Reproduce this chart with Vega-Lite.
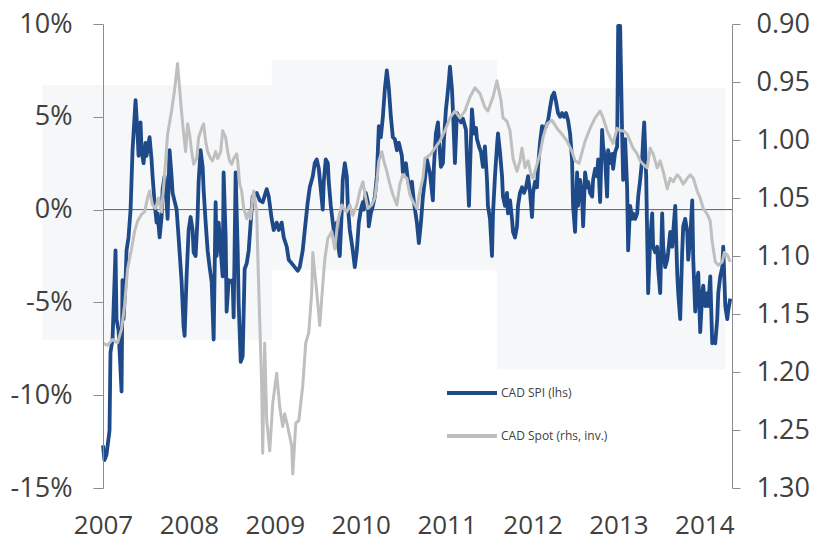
{
  "$schema": "https://vega.github.io/schema/vega-lite/v6.json",
  "width": 629,
  "height": 464,
  "autosize": "none",
  "padding": {"left": 103, "top": 24, "right": 88, "bottom": 54},
  "background": "white",
  "config": {"view": {"stroke": null}, "font": "Open Sans"},
  "datasets": {
    "shade": [
      {"t": 2006.295, "t2": 2008.964, "hi": 6.71, "lo": -7.03},
      {"t": 2008.964, "t2": 2011.586, "hi": 8.06, "lo": -3.25},
      {"t": 2011.586, "t2": 2014.243, "hi": 6.55, "lo": -8.6}
    ],
    "zero": [{"t": 2007, "t2": 2014.322, "v": 0}],
    "spi": [
      {"t":2007.000,"v":-12.7},{"t":2007.017,"v":-13.5},{"t":2007.041,"v":-13.2},{"t":2007.076,"v":-11.9},{"t":2007.087,"v":-7.7},{"t":2007.111,"v":-7.0},{"t":2007.146,"v":-2.2},{"t":2007.157,"v":-5.9},{"t":2007.181,"v":-6.5},{"t":2007.216,"v":-9.8},{"t":2007.227,"v":-3.8},{"t":2007.239,"v":-5.9},{"t":2007.262,"v":-3.9},{"t":2007.274,"v":-2.2},{"t":2007.297,"v":-1.5},{"t":2007.321,"v":0.0},{"t":2007.344,"v":3.2},{"t":2007.379,"v":5.9},{"t":2007.402,"v":4.1},{"t":2007.414,"v":2.9},{"t":2007.437,"v":4.7},{"t":2007.449,"v":3.2},{"t":2007.472,"v":2.5},{"t":2007.495,"v":3.6},{"t":2007.507,"v":2.9},{"t":2007.542,"v":3.9},{"t":2007.565,"v":2.7},{"t":2007.577,"v":1.8},{"t":2007.600,"v":0.4},{"t":2007.624,"v":-0.7},{"t":2007.635,"v":-0.2},{"t":2007.659,"v":-1.5},{"t":2007.682,"v":-0.4},{"t":2007.694,"v":1.1},{"t":2007.717,"v":1.8},{"t":2007.740,"v":0.4},{"t":2007.752,"v":-0.5},{"t":2007.775,"v":3.2},{"t":2007.798,"v":1.8},{"t":2007.810,"v":0.9},{"t":2007.857,"v":0.0},{"t":2007.880,"v":-1.5},{"t":2007.915,"v":-3.9},{"t":2007.938,"v":-6.3},{"t":2007.950,"v":-6.8},{"t":2007.973,"v":-3.6},{"t":2007.997,"v":-1.1},{"t":2008.020,"v":-0.4},{"t":2008.043,"v":-1.1},{"t":2008.055,"v":-2.3},{"t":2008.078,"v":-2.5},{"t":2008.101,"v":-0.4},{"t":2008.113,"v":1.5},{"t":2008.136,"v":3.2},{"t":2008.160,"v":2.3},{"t":2008.171,"v":1.1},{"t":2008.195,"v":-0.7},{"t":2008.218,"v":-2.2},{"t":2008.241,"v":-3.1},{"t":2008.265,"v":-3.9},{"t":2008.288,"v":-7.0},{"t":2008.311,"v":0.4},{"t":2008.323,"v":-2.5},{"t":2008.346,"v":-0.7},{"t":2008.370,"v":-2.2},{"t":2008.393,"v":-3.6},{"t":2008.404,"v":2.0},{"t":2008.428,"v":-1.5},{"t":2008.439,"v":-5.5},{"t":2008.463,"v":-3.8},{"t":2008.486,"v":-3.9},{"t":2008.509,"v":-3.8},{"t":2008.521,"v":-5.8},{"t":2008.544,"v":2.0},{"t":2008.568,"v":-2.2},{"t":2008.579,"v":-5.0},{"t":2008.603,"v":-8.2},{"t":2008.626,"v":-7.9},{"t":2008.649,"v":-3.2},{"t":2008.673,"v":-2.9},{"t":2008.696,"v":-2.2},{"t":2008.719,"v":-0.7},{"t":2008.742,"v":0.7},{"t":2008.789,"v":0.9},{"t":2008.824,"v":0.5},{"t":2008.859,"v":0.4},{"t":2008.906,"v":1.1},{"t":2008.929,"v":0.7},{"t":2008.964,"v":-0.5},{"t":2008.987,"v":-1.1},{"t":2009.022,"v":-0.7},{"t":2009.046,"v":-1.1},{"t":2009.080,"v":-0.7},{"t":2009.104,"v":-1.5},{"t":2009.139,"v":-2.0},{"t":2009.162,"v":-2.7},{"t":2009.197,"v":-2.9},{"t":2009.232,"v":-3.1},{"t":2009.267,"v":-3.3},{"t":2009.290,"v":-3.1},{"t":2009.325,"v":-2.2},{"t":2009.349,"v":-1.1},{"t":2009.383,"v":0.4},{"t":2009.407,"v":1.2},{"t":2009.442,"v":1.8},{"t":2009.465,"v":2.5},{"t":2009.488,"v":2.7},{"t":2009.512,"v":2.2},{"t":2009.535,"v":1.1},{"t":2009.558,"v":0.0},{"t":2009.570,"v":1.5},{"t":2009.593,"v":2.7},{"t":2009.617,"v":2.5},{"t":2009.628,"v":1.5},{"t":2009.652,"v":0.2},{"t":2009.675,"v":-0.7},{"t":2009.698,"v":-1.5},{"t":2009.721,"v":-0.7},{"t":2009.733,"v":-1.8},{"t":2009.756,"v":-2.5},{"t":2009.780,"v":0.0},{"t":2009.791,"v":1.6},{"t":2009.815,"v":2.5},{"t":2009.838,"v":1.8},{"t":2009.850,"v":0.2},{"t":2009.873,"v":-1.1},{"t":2009.908,"v":-2.2},{"t":2009.931,"v":-3.1},{"t":2009.955,"v":-2.2},{"t":2009.978,"v":-0.7},{"t":2010.001,"v":0.0},{"t":2010.025,"v":0.4},{"t":2010.036,"v":0.0},{"t":2010.059,"v":0.9},{"t":2010.083,"v":0.4},{"t":2010.094,"v":-0.9},{"t":2010.118,"v":-0.2},{"t":2010.141,"v":0.2},{"t":2010.164,"v":0.7},{"t":2010.188,"v":1.8},{"t":2010.211,"v":4.5},{"t":2010.234,"v":3.9},{"t":2010.258,"v":5.0},{"t":2010.281,"v":6.5},{"t":2010.304,"v":7.5},{"t":2010.328,"v":6.5},{"t":2010.351,"v":5.0},{"t":2010.374,"v":3.9},{"t":2010.397,"v":3.8},{"t":2010.421,"v":3.2},{"t":2010.444,"v":3.6},{"t":2010.479,"v":2.9},{"t":2010.491,"v":2.0},{"t":2010.526,"v":2.5},{"t":2010.549,"v":1.6},{"t":2010.572,"v":1.1},{"t":2010.596,"v":1.5},{"t":2010.619,"v":0.4},{"t":2010.654,"v":-0.7},{"t":2010.677,"v":-1.8},{"t":2010.701,"v":-0.7},{"t":2010.724,"v":0.7},{"t":2010.747,"v":1.6},{"t":2010.770,"v":2.7},{"t":2010.805,"v":2.0},{"t":2010.840,"v":0.5},{"t":2010.852,"v":2.3},{"t":2010.875,"v":4.1},{"t":2010.899,"v":4.7},{"t":2010.910,"v":3.8},{"t":2010.934,"v":2.3},{"t":2010.957,"v":2.5},{"t":2010.969,"v":3.8},{"t":2010.992,"v":5.4},{"t":2011.004,"v":5.9},{"t":2011.027,"v":7.0},{"t":2011.039,"v":7.7},{"t":2011.062,"v":6.5},{"t":2011.073,"v":5.4},{"t":2011.097,"v":2.5},{"t":2011.120,"v":5.2},{"t":2011.143,"v":5.0},{"t":2011.167,"v":4.7},{"t":2011.190,"v":4.9},{"t":2011.225,"v":4.3},{"t":2011.237,"v":2.7},{"t":2011.260,"v":0.2},{"t":2011.283,"v":3.8},{"t":2011.295,"v":5.4},{"t":2011.318,"v":4.1},{"t":2011.342,"v":4.4},{"t":2011.353,"v":3.8},{"t":2011.377,"v":3.4},{"t":2011.400,"v":3.1},{"t":2011.423,"v":2.3},{"t":2011.446,"v":3.4},{"t":2011.470,"v":1.6},{"t":2011.481,"v":0.2},{"t":2011.505,"v":-0.5},{"t":2011.528,"v":-2.5},{"t":2011.540,"v":-0.2},{"t":2011.563,"v":1.8},{"t":2011.586,"v":3.4},{"t":2011.598,"v":4.1},{"t":2011.621,"v":3.1},{"t":2011.645,"v":1.8},{"t":2011.656,"v":0.7},{"t":2011.680,"v":0.2},{"t":2011.703,"v":0.9},{"t":2011.714,"v":-0.2},{"t":2011.738,"v":0.5},{"t":2011.761,"v":-0.5},{"t":2011.773,"v":-1.2},{"t":2011.796,"v":-1.5},{"t":2011.819,"v":-0.9},{"t":2011.831,"v":0.2},{"t":2011.854,"v":0.9},{"t":2011.878,"v":1.2},{"t":2011.901,"v":0.9},{"t":2011.924,"v":1.2},{"t":2011.948,"v":1.8},{"t":2011.971,"v":0.9},{"t":2011.994,"v":-0.4},{"t":2012.006,"v":0.9},{"t":2012.029,"v":1.5},{"t":2012.052,"v":1.2},{"t":2012.064,"v":2.3},{"t":2012.087,"v":3.6},{"t":2012.111,"v":4.5},{"t":2012.134,"v":4.3},{"t":2012.157,"v":4.5},{"t":2012.181,"v":4.8},{"t":2012.204,"v":5.5},{"t":2012.227,"v":6.1},{"t":2012.251,"v":6.3},{"t":2012.274,"v":5.8},{"t":2012.297,"v":5.2},{"t":2012.321,"v":5.0},{"t":2012.344,"v":5.2},{"t":2012.367,"v":5.0},{"t":2012.390,"v":5.2},{"t":2012.414,"v":4.8},{"t":2012.437,"v":4.1},{"t":2012.460,"v":2.7},{"t":2012.472,"v":0.2},{"t":2012.495,"v":-1.2},{"t":2012.519,"v":2.0},{"t":2012.530,"v":0.2},{"t":2012.554,"v":1.6},{"t":2012.577,"v":0.7},{"t":2012.589,"v":-0.9},{"t":2012.612,"v":2.0},{"t":2012.635,"v":1.2},{"t":2012.647,"v":1.5},{"t":2012.670,"v":0.9},{"t":2012.694,"v":0.7},{"t":2012.705,"v":1.6},{"t":2012.729,"v":2.2},{"t":2012.752,"v":1.8},{"t":2012.764,"v":2.7},{"t":2012.787,"v":0.4},{"t":2012.810,"v":4.3},{"t":2012.822,"v":3.4},{"t":2012.845,"v":2.7},{"t":2012.868,"v":0.7},{"t":2012.880,"v":3.2},{"t":2012.903,"v":2.5},{"t":2012.927,"v":3.0},{"t":2012.938,"v":2.2},{"t":2012.962,"v":3.1},{"t":2012.985,"v":3.4},{"t":2012.997,"v":9.9},{"t":2013.020,"v":9.9},{"t":2013.043,"v":4.1},{"t":2013.055,"v":1.6},{"t":2013.078,"v":3.8},{"t":2013.101,"v":1.2},{"t":2013.113,"v":-2.2},{"t":2013.136,"v":0.2},{"t":2013.160,"v":-0.5},{"t":2013.171,"v":-0.2},{"t":2013.195,"v":-0.5},{"t":2013.218,"v":-0.2},{"t":2013.230,"v":0.7},{"t":2013.253,"v":1.6},{"t":2013.276,"v":2.7},{"t":2013.288,"v":3.8},{"t":2013.300,"v":4.7},{"t":2013.323,"v":1.8},{"t":2013.335,"v":-1.5},{"t":2013.346,"v":-4.5},{"t":2013.370,"v":-1.6},{"t":2013.393,"v":-0.2},{"t":2013.404,"v":-2.0},{"t":2013.428,"v":-2.3},{"t":2013.451,"v":-2.0},{"t":2013.463,"v":-3.2},{"t":2013.486,"v":-4.5},{"t":2013.509,"v":-0.2},{"t":2013.521,"v":-2.0},{"t":2013.544,"v":-3.1},{"t":2013.568,"v":-2.7},{"t":2013.579,"v":-2.3},{"t":2013.603,"v":-1.2},{"t":2013.626,"v":-2.0},{"t":2013.638,"v":-1.2},{"t":2013.661,"v":0.2},{"t":2013.684,"v":-3.4},{"t":2013.696,"v":-4.5},{"t":2013.719,"v":-5.9},{"t":2013.742,"v":-2.3},{"t":2013.754,"v":-0.9},{"t":2013.777,"v":-0.5},{"t":2013.801,"v":-1.2},{"t":2013.812,"v":-2.7},{"t":2013.836,"v":-1.5},{"t":2013.859,"v":0.5},{"t":2013.871,"v":-2.7},{"t":2013.894,"v":-5.5},{"t":2013.917,"v":-3.8},{"t":2013.929,"v":-3.4},{"t":2013.952,"v":-6.6},{"t":2013.976,"v":-4.5},{"t":2013.987,"v":-4.1},{"t":2014.011,"v":-5.2},{"t":2014.034,"v":-4.5},{"t":2014.046,"v":-5.2},{"t":2014.069,"v":-3.6},{"t":2014.092,"v":-7.2},{"t":2014.104,"v":-7.0},{"t":2014.127,"v":-7.2},{"t":2014.150,"v":-5.9},{"t":2014.162,"v":-4.5},{"t":2014.185,"v":-3.6},{"t":2014.209,"v":-3.1},{"t":2014.220,"v":-2.0},{"t":2014.244,"v":-5.2},{"t":2014.267,"v":-5.9},{"t":2014.279,"v":-5.4},{"t":2014.302,"v":-4.8}
    ],
    "spot": [
      {"t":2007.000,"r":1.175},{"t":2007.052,"r":1.177},{"t":2007.111,"r":1.172},{"t":2007.169,"r":1.175},{"t":2007.216,"r":1.163},{"t":2007.251,"r":1.143},{"t":2007.286,"r":1.111},{"t":2007.332,"r":1.094},{"t":2007.367,"r":1.079},{"t":2007.402,"r":1.070},{"t":2007.449,"r":1.064},{"t":2007.484,"r":1.062},{"t":2007.519,"r":1.050},{"t":2007.542,"r":1.044},{"t":2007.577,"r":1.056},{"t":2007.612,"r":1.059},{"t":2007.647,"r":1.050},{"t":2007.682,"r":1.062},{"t":2007.717,"r":1.030},{"t":2007.752,"r":0.995},{"t":2007.798,"r":0.975},{"t":2007.833,"r":0.957},{"t":2007.868,"r":0.934},{"t":2007.903,"r":0.966},{"t":2007.927,"r":0.986},{"t":2007.962,"r":1.010},{"t":2007.985,"r":0.986},{"t":2008.008,"r":0.995},{"t":2008.032,"r":1.010},{"t":2008.055,"r":1.021},{"t":2008.090,"r":1.016},{"t":2008.113,"r":0.998},{"t":2008.148,"r":0.990},{"t":2008.171,"r":0.986},{"t":2008.195,"r":1.001},{"t":2008.218,"r":1.010},{"t":2008.253,"r":1.016},{"t":2008.276,"r":1.018},{"t":2008.311,"r":1.010},{"t":2008.335,"r":1.016},{"t":2008.370,"r":1.010},{"t":2008.393,"r":0.992},{"t":2008.428,"r":0.998},{"t":2008.451,"r":1.010},{"t":2008.474,"r":1.018},{"t":2008.498,"r":1.021},{"t":2008.521,"r":1.016},{"t":2008.556,"r":1.012},{"t":2008.568,"r":1.018},{"t":2008.591,"r":1.038},{"t":2008.614,"r":1.044},{"t":2008.638,"r":1.059},{"t":2008.673,"r":1.068},{"t":2008.696,"r":1.062},{"t":2008.719,"r":1.068},{"t":2008.742,"r":1.050},{"t":2008.754,"r":1.044},{"t":2008.789,"r":1.062},{"t":2008.801,"r":1.097},{"t":2008.824,"r":1.155},{"t":2008.847,"r":1.212},{"t":2008.859,"r":1.270},{"t":2008.882,"r":1.175},{"t":2008.906,"r":1.242},{"t":2008.941,"r":1.268},{"t":2008.976,"r":1.227},{"t":2009.022,"r":1.201},{"t":2009.057,"r":1.230},{"t":2009.092,"r":1.247},{"t":2009.115,"r":1.236},{"t":2009.150,"r":1.247},{"t":2009.197,"r":1.264},{"t":2009.209,"r":1.288},{"t":2009.244,"r":1.244},{"t":2009.279,"r":1.242},{"t":2009.325,"r":1.212},{"t":2009.360,"r":1.175},{"t":2009.395,"r":1.166},{"t":2009.430,"r":1.131},{"t":2009.442,"r":1.097},{"t":2009.488,"r":1.131},{"t":2009.523,"r":1.160},{"t":2009.558,"r":1.125},{"t":2009.582,"r":1.103},{"t":2009.617,"r":1.085},{"t":2009.663,"r":1.079},{"t":2009.698,"r":1.094},{"t":2009.733,"r":1.070},{"t":2009.780,"r":1.056},{"t":2009.803,"r":1.059},{"t":2009.838,"r":1.062},{"t":2009.873,"r":1.056},{"t":2009.908,"r":1.065},{"t":2009.955,"r":1.056},{"t":2009.990,"r":1.044},{"t":2010.025,"r":1.036},{"t":2010.059,"r":1.050},{"t":2010.083,"r":1.059},{"t":2010.129,"r":1.056},{"t":2010.164,"r":1.050},{"t":2010.188,"r":1.036},{"t":2010.211,"r":1.018},{"t":2010.246,"r":1.010},{"t":2010.269,"r":1.018},{"t":2010.304,"r":1.027},{"t":2010.339,"r":1.038},{"t":2010.374,"r":1.047},{"t":2010.421,"r":1.056},{"t":2010.456,"r":1.038},{"t":2010.491,"r":1.030},{"t":2010.537,"r":1.033},{"t":2010.572,"r":1.047},{"t":2010.607,"r":1.053},{"t":2010.654,"r":1.059},{"t":2010.689,"r":1.044},{"t":2010.724,"r":1.033},{"t":2010.747,"r":1.016},{"t":2010.805,"r":1.013},{"t":2010.864,"r":1.007},{"t":2010.922,"r":1.001},{"t":2010.980,"r":0.992},{"t":2011.039,"r":0.981},{"t":2011.097,"r":0.975},{"t":2011.155,"r":0.981},{"t":2011.213,"r":0.975},{"t":2011.272,"r":0.963},{"t":2011.330,"r":0.955},{"t":2011.388,"r":0.960},{"t":2011.446,"r":0.972},{"t":2011.481,"r":0.975},{"t":2011.540,"r":0.963},{"t":2011.586,"r":0.949},{"t":2011.633,"r":0.966},{"t":2011.656,"r":0.981},{"t":2011.703,"r":0.984},{"t":2011.738,"r":0.992},{"t":2011.773,"r":1.016},{"t":2011.819,"r":1.027},{"t":2011.854,"r":1.018},{"t":2011.878,"r":1.007},{"t":2011.913,"r":1.024},{"t":2011.948,"r":1.018},{"t":2011.983,"r":1.030},{"t":2012.006,"r":1.033},{"t":2012.052,"r":1.021},{"t":2012.087,"r":1.012},{"t":2012.122,"r":0.998},{"t":2012.169,"r":0.986},{"t":2012.227,"r":0.983},{"t":2012.286,"r":0.990},{"t":2012.344,"r":0.995},{"t":2012.402,"r":1.001},{"t":2012.460,"r":1.010},{"t":2012.495,"r":1.018},{"t":2012.542,"r":1.020},{"t":2012.612,"r":1.001},{"t":2012.670,"r":0.990},{"t":2012.729,"r":0.981},{"t":2012.787,"r":0.975},{"t":2012.822,"r":0.981},{"t":2012.868,"r":0.992},{"t":2012.903,"r":0.998},{"t":2012.938,"r":1.003},{"t":2012.985,"r":0.990},{"t":2013.020,"r":0.992},{"t":2013.055,"r":0.992},{"t":2013.101,"r":0.995},{"t":2013.136,"r":1.001},{"t":2013.171,"r":1.007},{"t":2013.218,"r":1.012},{"t":2013.253,"r":1.018},{"t":2013.288,"r":1.021},{"t":2013.335,"r":1.024},{"t":2013.370,"r":1.007},{"t":2013.404,"r":1.012},{"t":2013.451,"r":1.024},{"t":2013.486,"r":1.018},{"t":2013.521,"r":1.027},{"t":2013.568,"r":1.042},{"t":2013.603,"r":1.033},{"t":2013.638,"r":1.036},{"t":2013.684,"r":1.030},{"t":2013.719,"r":1.033},{"t":2013.754,"r":1.038},{"t":2013.801,"r":1.033},{"t":2013.836,"r":1.030},{"t":2013.871,"r":1.033},{"t":2013.917,"r":1.044},{"t":2013.952,"r":1.050},{"t":2013.987,"r":1.059},{"t":2014.034,"r":1.064},{"t":2014.069,"r":1.070},{"t":2014.092,"r":1.088},{"t":2014.127,"r":1.105},{"t":2014.162,"r":1.108},{"t":2014.209,"r":1.105},{"t":2014.232,"r":1.097},{"t":2014.267,"r":1.099},{"t":2014.302,"r":1.105}
    ]
  },
  "encoding": {
    "x": {
      "field": "t",
      "type": "quantitative",
      "scale": {"domain": [2007, 2014.322], "nice": false, "zero": false},
      "axis": {
        "title": null,
        "values": [2007, 2008, 2009, 2010, 2011, 2012, 2013, 2014],
        "format": "d",
        "domain": false,
        "ticks": false,
        "tickSize": 0,
        "grid": false,
        "labelFont": "Open Sans",
        "labelFontSize": 26,
        "labelColor": "#404040",
        "labelPadding": 24,
        "labelFlush": false,
        "labelOverlap": false,
        "labelBound": false
      }
    }
  },
  "layer": [
    {
      "layer": [
        {
          "data": {"name": "shade"},
          "mark": {"type": "rect", "color": "#f5f7f8"},
          "encoding": {
            "x2": {"field": "t2"},
            "y": {"field": "hi", "type": "quantitative", "title": null, "scale": {"domain": [-15, 10], "nice": false, "zero": false}},
            "y2": {"field": "lo"}
          }
        },
        {
          "data": {"name": "zero"},
          "mark": {"type": "rule", "color": "#606060", "strokeWidth": 1},
          "encoding": {
            "x2": {"field": "t2"},
            "y": {"field": "v", "type": "quantitative", "title": null, "scale": {"domain": [-15, 10], "nice": false, "zero": false}}
          }
        },
        {
          "data": {"name": "spi"},
          "mark": {"type": "line", "strokeWidth": 3.8, "strokeJoin": "round"},
          "encoding": {
            "y": {
              "field": "v",
              "type": "quantitative",
              "title": null,
              "scale": {"domain": [-15, 10], "nice": false, "zero": false},
              "axis": {
                "orient": "left",
                "zindex": 1,
                "values": [-15, -10, -5, 0, 5, 10],
                "labelExpr": "datum.value + '%'",
                "grid": false,
                "domainColor": "#8c8c8c",
                "tickColor": "#8c8c8c",
                "tickSize": 10,
                "labelFont": "Open Sans",
                "labelFontSize": 27,
                "labelColor": "#404040",
                "labelPadding": 21
              }
            },
            "color": {
              "datum": "CAD SPI (lhs)",
              "type": "nominal",
              "scale": {"domain": ["CAD SPI (lhs)", "CAD Spot (rhs, inv.)"], "range": ["#1f4a8a", "#bfbfbf"]},
              "legend": {
                "orient": "none",
                "legendX": 342,
                "legendY": 342,
                "title": null,
                "padding": 0,
                "symbolType": "stroke",
                "symbolSize": 2500,
                "symbolStrokeWidth": 4,
                "labelFont": "Open Sans",
                "labelFontSize": 12,
                "labelColor": "#404040",
                "labelOffset": 2,
                "rowPadding": 8
              }
            }
          }
        }
      ]
    },
    {
      "data": {"name": "spot"},
      "mark": {"type": "line", "strokeWidth": 3, "strokeJoin": "round"},
      "encoding": {
        "y": {
          "field": "r",
          "type": "quantitative",
          "title": null,
          "scale": {"domain": [0.9, 1.3], "reverse": true, "nice": false, "zero": false},
          "axis": {
            "orient": "right",
            "values": [0.9, 0.95, 1.0, 1.05, 1.1, 1.15, 1.2, 1.25, 1.3],
            "format": ".2f",
            "grid": false,
            "domainColor": "#8c8c8c",
            "tickColor": "#8c8c8c",
            "tickSize": 8,
            "labelFont": "Open Sans",
            "labelFontSize": 27,
            "labelColor": "#404040",
            "labelPadding": 16
          }
        },
        "color": {"datum": "CAD Spot (rhs, inv.)", "type": "nominal"}
      }
    }
  ],
  "resolve": {"scale": {"y": "independent"}}
}
